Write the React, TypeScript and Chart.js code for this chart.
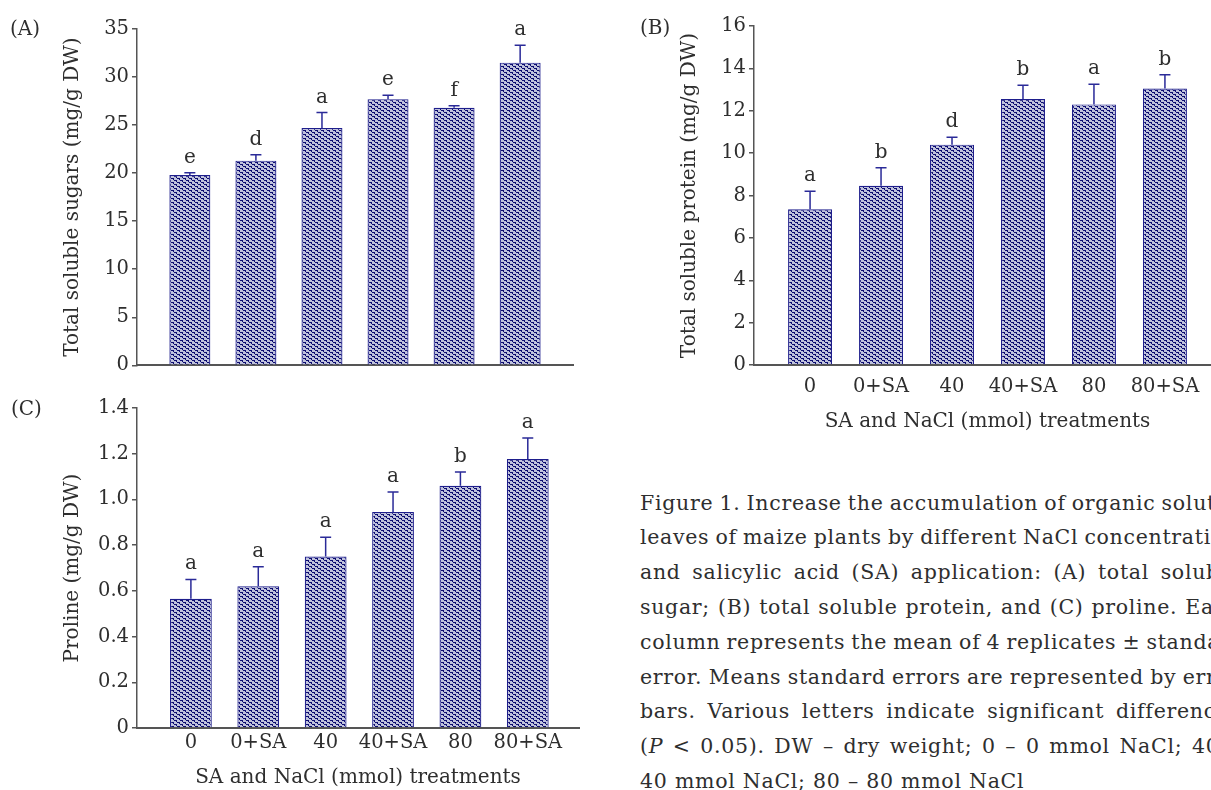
import React, { useEffect, useRef } from 'react';
import { Chart, registerables } from 'chart.js';

Chart.register(...registerables);

// ---------- data ----------
const categories = ['0', '0+SA', '40', '40+SA', '80', '80+SA'];

const sugarsMean = [19.8, 21.3, 24.7, 27.7, 26.8, 31.5];
const sugarsErr = [0.25, 0.6, 1.6, 0.4, 0.2, 1.8];
const sugarsLetters = ['e', 'd', 'a', 'e', 'f', 'a'];
const sugarsTicks = ['0', '5', '10', '15', '20', '25', '30', '35'];

const proteinMean = [7.35, 8.46, 10.4, 12.55, 12.3, 13.05];
const proteinErr = [0.85, 0.85, 0.35, 0.65, 0.95, 0.65];
const proteinLetters = ['a', 'b', 'd', 'b', 'a', 'b'];
const proteinTicks = ['0', '2', '4', '6', '8', '10', '12', '14', '16'];

const prolineMean = [0.565, 0.62, 0.75, 0.945, 1.06, 1.177];
const prolineErr = [0.085, 0.085, 0.085, 0.087, 0.06, 0.092];
const prolineLetters = ['a', 'a', 'a', 'a', 'b', 'a'];
const prolineTicks = ['0', '0.2', '0.4', '0.6', '0.8', '1.0', '1.2', '1.4'];

const xTitle = 'SA and NaCl (mmol) treatments';

const captionLines = [
  'Figure 1. Increase the accumulation of organic solutes in',
  'leaves of maize plants by different NaCl concentrations',
  'and salicylic acid (SA) application: (A) total soluble',
  'sugar; (B) total soluble protein, and (C) proline. Each',
  'column represents the mean of 4 replicates ± standard',
  'error. Means standard errors are represented by error',
  'bars. Various letters indicate significant differences',
  '(P < 0.05). DW – dry weight; 0 – 0 mmol NaCl; 40 –',
  '40 mmol NaCl; 80 – 80 mmol NaCl',
];

// ---------- styling ----------
const FONT = '"DejaVu Serif", "Liberation Serif", serif';
const TEXT = '#2e2e2e';
const AXIS = '#555555';
const NAVY = '#0c0c70';
const LIGHT = '#bfc2dc';
const ERR = '#2a2a98';

function makePattern(): CanvasPattern | string {
  const t = document.createElement('canvas');
  t.width = 6;
  t.height = 4;
  const c = t.getContext('2d');
  if (!c) return NAVY;
  c.fillStyle = LIGHT;
  c.fillRect(0, 0, 6, 4);
  c.fillStyle = NAVY;
  const cells = [
    '###...',
    '..#...',
    '...###',
    '.....#',
  ];
  cells.forEach((row, y) => {
    for (let x = 0; x < row.length; x++) if (row[x] === '#') c.fillRect(x, y, 1, 1);
  });
  const p = c.createPattern(t, 'repeat');
  return p || NAVY;
}

type PanelCfg = {
  left: number;
  top: number;
  w: number;
  h: number;
  means: number[];
  errs: number[];
  letters: string[];
  ticks: string[];
  yMax: number;
  yTitle: string;
  yWidth: number;
  yTitlePad: number;
  xHeight: number;
  xMin: number;
  xMax: number;
  showX: boolean;
  xTickPad: number;
  xTitlePad: number;
  padding: { top: number; right: number; bottom: number; left: number };
};

function buildConfig(p: PanelCfg): any {
  const pattern = makePattern();
  const annot = {
    id: 'annot',
    afterDatasetsDraw(chart: any) {
      const { ctx, scales } = chart;
      const xs = scales.x;
      const ys = scales.y;
      ctx.save();
      p.means.forEach((v, i) => {
        const x = xs.getPixelForValue(i);
        const yb = ys.getPixelForValue(v);
        const yt = ys.getPixelForValue(v + p.errs[i]);
        ctx.strokeStyle = ERR;
        ctx.lineWidth = 1.5;
        ctx.beginPath();
        ctx.moveTo(x, yb);
        ctx.lineTo(x, yt);
        ctx.moveTo(x - 5.5, yt);
        ctx.lineTo(x + 5.5, yt);
        ctx.stroke();
        ctx.fillStyle = TEXT;
        ctx.font = `20px ${FONT}`;
        ctx.textAlign = 'center';
        ctx.textBaseline = 'alphabetic';
        ctx.fillText(p.letters[i], x, yt - 10);
      });
      ctx.restore();
    },
  };
  const tickFont = { family: FONT, size: 19.5 };
  const titleFont = { family: FONT, size: 20 };
  return {
    type: 'bar',
    data: {
      datasets: [
        {
          data: p.means.map((v, i) => ({ x: i, y: v })),
          backgroundColor: pattern,
          borderColor: '#1e1e8c',
          borderWidth: 1.2,
          barPercentage: 0.62,
          categoryPercentage: 1,
        },
      ],
    },
    options: {
      animation: false,
      responsive: false,
      maintainAspectRatio: false,
      events: [],
      layout: { padding: p.padding },
      plugins: { legend: { display: false }, tooltip: { enabled: false }, title: { display: false } },
      scales: {
        x: {
          type: 'linear',
          min: p.xMin,
          max: p.xMax,
          offset: false,
          grid: { display: false, drawTicks: false },
          border: { display: true, color: AXIS, width: 2 },
          ticks: {
            display: p.showX,
            font: tickFont,
            color: TEXT,
            padding: p.xTickPad,
            autoSkip: false,
            maxRotation: 0,
            callback: (v: number) => (categories[v] !== undefined ? categories[v] : ''),
          },
          afterBuildTicks: (s: any) => {
            s.ticks = categories.map((_, i) => ({ value: i }));
          },
          afterFit: (s: any) => {
            s.height = p.xHeight;
          },
          title: {
            display: p.showX,
            text: xTitle,
            font: titleFont,
            color: TEXT,
            padding: { top: 0, bottom: p.xTitlePad },
          },
        },
        y: {
          min: 0,
          max: p.yMax,
          grid: { display: true, drawOnChartArea: false, drawTicks: true, tickLength: 5, color: AXIS, lineWidth: 1.5 },
          border: { display: true, color: AXIS, width: 1.5 },
          ticks: {
            font: tickFont,
            color: TEXT,
            padding: 3,
            callback: (_v: number, i: number) => p.ticks[i],
          },
          afterBuildTicks: (s: any) => {
            s.ticks = p.ticks.map((t) => ({ value: parseFloat(t) }));
          },
          afterFit: (s: any) => {
            s.width = p.yWidth;
          },
          title: {
            display: true,
            text: p.yTitle,
            font: titleFont,
            color: TEXT,
            padding: { top: p.yTitlePad, bottom: 0 },
          },
        },
      },
    },
    plugins: [annot],
  };
}

function Panel({ cfg }: { cfg: PanelCfg }) {
  const ref = useRef<HTMLCanvasElement | null>(null);
  useEffect(() => {
    if (!ref.current) return;
    const chart = new Chart(ref.current, buildConfig(cfg));
    return () => chart.destroy();
  }, []);
  return (
    <canvas
      ref={ref}
      width={cfg.w}
      height={cfg.h}
      style={{ position: 'absolute', left: cfg.left, top: cfg.top, width: cfg.w, height: cfg.h }}
    />
  );
}

const panelA: PanelCfg = {
  left: 0, top: 0, w: 600, h: 380,
  means: sugarsMean, errs: sugarsErr, letters: sugarsLetters, ticks: sugarsTicks,
  yMax: 35, yTitle: 'Total soluble sugars (mg/g DW)', yWidth: 137, yTitlePad: 61,
  xHeight: 13, xMin: -0.8, xMax: 5.8, showX: false, xTickPad: 0, xTitlePad: 0,
  padding: { top: 29, right: 27, bottom: 0, left: 0 },
};

const panelB: PanelCfg = {
  left: 600, top: 0, w: 640, h: 440,
  means: proteinMean, errs: proteinErr, letters: proteinLetters, ticks: proteinTicks,
  yMax: 16, yTitle: 'Total soluble protein (mg/g DW)', yWidth: 154, yTitlePad: 78,
  xHeight: 75, xMin: -0.79, xMax: 5.79, showX: true, xTickPad: 10, xTitlePad: 6,
  padding: { top: 26, right: 19, bottom: 0, left: 0 },
};

const panelC: PanelCfg = {
  left: 0, top: 380, w: 600, h: 415,
  means: prolineMean, errs: prolineErr, letters: prolineLetters, ticks: prolineTicks,
  yMax: 1.4, yTitle: 'Proline (mg/g DW)', yWidth: 137, yTitlePad: 61,
  xHeight: 67, xMin: -0.8, xMax: 5.76, showX: true, xTickPad: 3, xTitlePad: 5,
  padding: { top: 28, right: 21, bottom: 0, left: 0 },
};

function CaptionLine({ text, last }: { text: string; last: boolean }) {
  const words = text.split(' ');
  const render = (w: string, i: number) => {
    if (w === '(P') {
      return (
        <span key={i} style={{ flexShrink: 0 }}>
          (<i>P</i>
        </span>
      );
    }
    return (
      <span key={i} style={{ flexShrink: 0 }}>
        {w}
      </span>
    );
  };
  return (
    <div
      style={{
        display: 'flex',
        justifyContent: last ? 'flex-start' : 'space-between',
        gap: last ? '0.36em' : '0.3em',
        width: 600,
        whiteSpace: 'nowrap',
        height: 34.8,
        lineHeight: '34.8px',
      }}
    >
      {words.map(render)}
    </div>
  );
}

export default function App() {
  const labelStyle: React.CSSProperties = {
    position: 'absolute',
    fontFamily: FONT,
    fontSize: 20,
    lineHeight: '24px',
    color: TEXT,
  };
  return (
    <div
      style={{
        position: 'fixed',
        left: 0,
        top: 0,
        width: 1211,
        height: 790,
        overflow: 'hidden',
        background: '#ffffff',
      }}
    >
      <Panel cfg={panelA} />
      <Panel cfg={panelB} />
      <Panel cfg={panelC} />
      <span style={{ ...labelStyle, left: 10, top: 16 }}>(A)</span>
      <span style={{ ...labelStyle, left: 640, top: 15 }}>(B)</span>
      <span style={{ ...labelStyle, left: 11, top: 396 }}>(C)</span>
      <div
        style={{
          position: 'absolute',
          left: 640,
          top: 485.6,
          fontFamily: FONT,
          fontSize: 20.5,
          letterSpacing: '0.7px',
          color: TEXT,
        }}
      >
        {captionLines.map((l, i) => (
          <CaptionLine key={i} text={l} last={i === captionLines.length - 1} />
        ))}
      </div>
    </div>
  );
}
